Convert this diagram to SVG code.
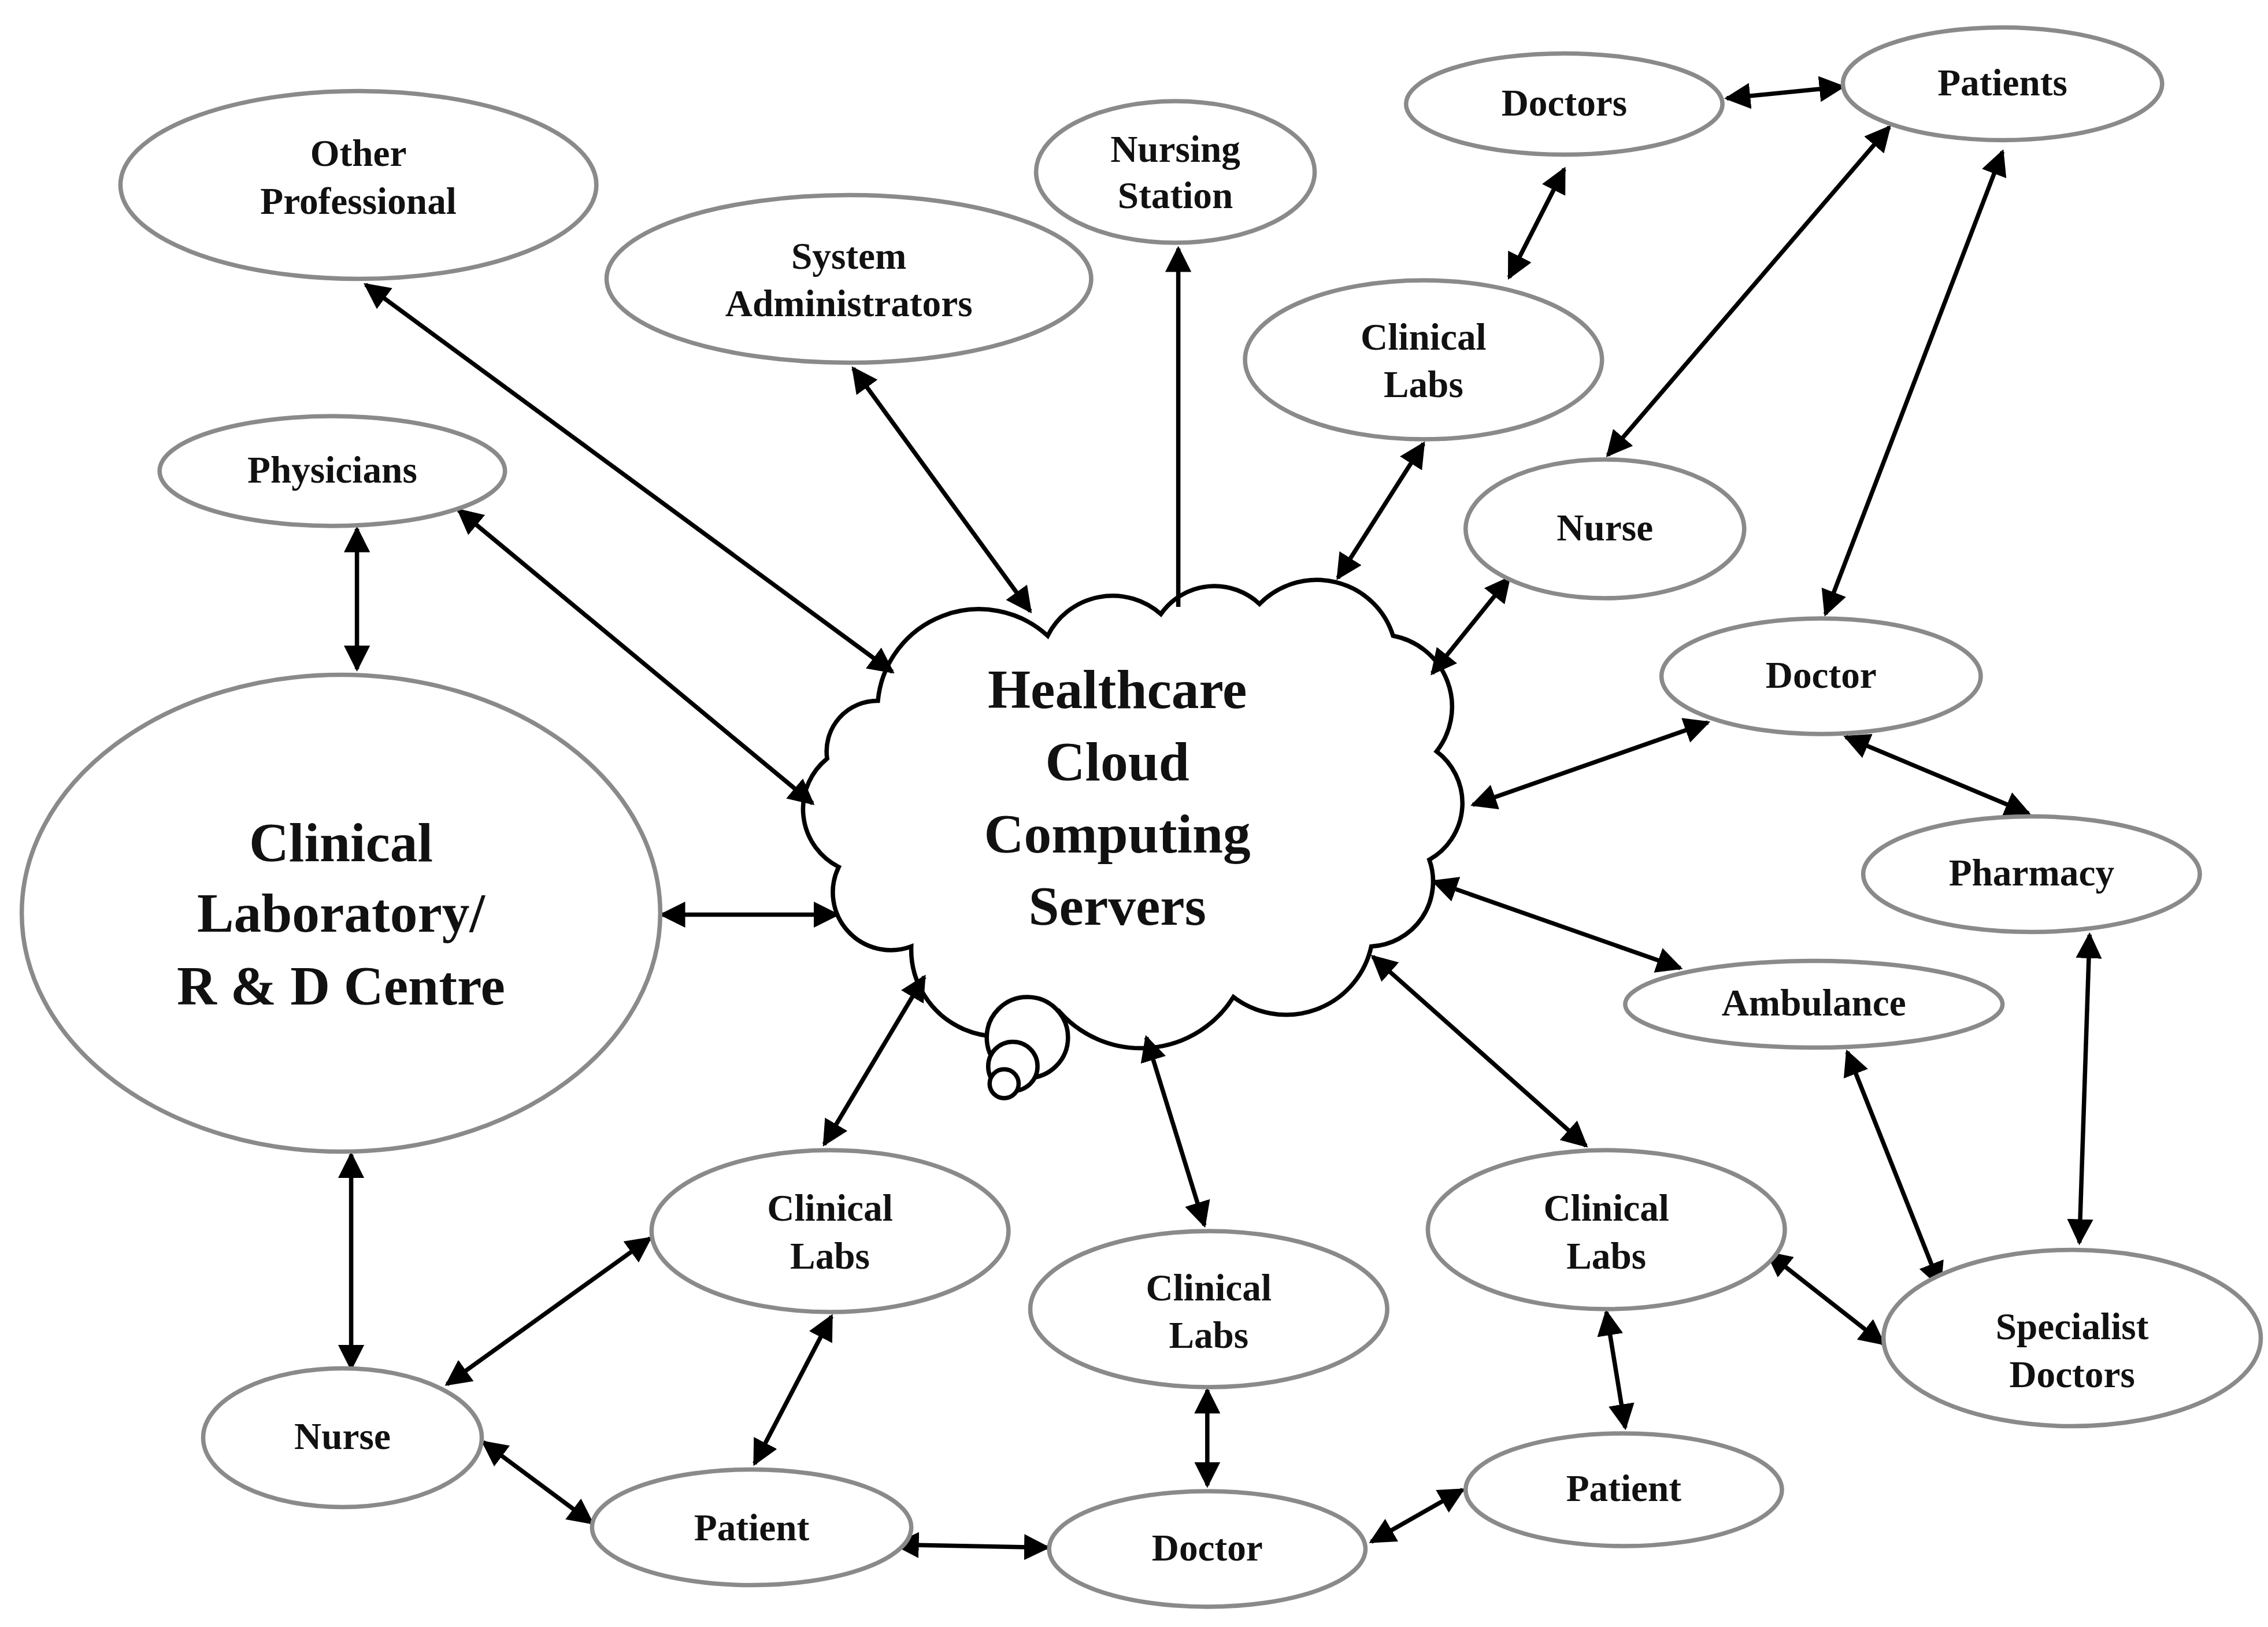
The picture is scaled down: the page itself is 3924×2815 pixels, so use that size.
<svg xmlns="http://www.w3.org/2000/svg" width="3924" height="2815" viewBox="0 0 3924 2815">
<style>
.n ellipse{fill:#fff;stroke:#8a8a8a;stroke-width:3}
text{font-family:"Liberation Serif",serif;font-weight:bold;fill:#111;text-anchor:middle}
.t{font-size:26px}
.b{font-size:38px}
#conn line{stroke:#000;stroke-width:3;marker-start:url(#a);marker-end:url(#a)}
</style>
<defs>
<marker id="a" viewBox="0 0 10 10" refX="9" refY="5" markerWidth="6" markerHeight="6" orient="auto-start-reverse"><path d="M0,0 L10,5 L0,10 z" fill="#000"/></marker>
</defs>
<rect width="3924" height="2815" fill="#fff"/>
<g transform="scale(2.5106,2.5)">
<g id="cloud">
<path d="M605 485 A70 70 0 0 1 722 440 A50 50 0 0 1 800 425 A45 45 0 0 1 868 418 A55 55 0 0 1 960 440 A50 50 0 0 1 990 520 A45 45 0 0 1 985 595 A45 45 0 0 1 945 655 A60 60 0 0 1 850 690 A75 75 0 0 1 730 700 A60 60 0 0 1 628 655 A40 40 0 0 1 578 600 A45 45 0 0 1 570 525 A35 35 0 0 1 605 485 Z" fill="#fff" stroke="#000" stroke-width="3"/>
<circle cx="708" cy="718" r="28" fill="#fff" stroke="#000" stroke-width="3"/>
<circle cx="698" cy="738" r="17" fill="#fff" stroke="#000" stroke-width="3"/>
<circle cx="692" cy="750" r="10" fill="#fff" stroke="#000" stroke-width="3"/>
<text class="b" x="770" y="490">Healthcare</text>
<text class="b" x="770" y="540">Cloud</text>
<text class="b" x="770" y="590">Computing</text>
<text class="b" x="770" y="640">Servers</text>
</g>
<g id="conn">
<line x1="252" y1="197" x2="615" y2="465"/>
<line x1="588" y1="255" x2="710" y2="423"/>
<line x1="812" y1="172" x2="812" y2="420" style="marker-end:none"/>
<line x1="981" y1="307" x2="922" y2="400"/>
<line x1="1078" y1="117" x2="1040" y2="192"/>
<line x1="1190" y1="68" x2="1270" y2="60"/>
<line x1="1302" y1="88" x2="1108" y2="315"/>
<line x1="1380" y1="105" x2="1258" y2="425"/>
<line x1="1040" y1="400" x2="987" y2="466"/>
<line x1="316" y1="353" x2="560" y2="556"/>
<line x1="246" y1="366" x2="246" y2="463"/>
<line x1="456" y1="633" x2="577" y2="633"/>
<line x1="1177" y1="500" x2="1015" y2="557"/>
<line x1="1272" y1="510" x2="1398" y2="563"/>
<line x1="988" y1="610" x2="1158" y2="670"/>
<line x1="1440" y1="647" x2="1433" y2="860"/>
<line x1="1273" y1="728" x2="1337" y2="890"/>
<line x1="946" y1="662" x2="1093" y2="793"/>
<line x1="637" y1="676" x2="568" y2="792"/>
<line x1="790" y1="718" x2="830" y2="848"/>
<line x1="242" y1="799" x2="242" y2="947"/>
<line x1="308" y1="958" x2="448" y2="857"/>
<line x1="573" y1="911" x2="520" y2="1013"/>
<line x1="333" y1="998" x2="408" y2="1054"/>
<line x1="617" y1="1069" x2="722" y2="1071"/>
<line x1="832" y1="962" x2="832" y2="1028"/>
<line x1="945" y1="1067" x2="1008" y2="1031"/>
<line x1="1107" y1="908" x2="1120" y2="988"/>
<line x1="1218" y1="867" x2="1298" y2="930"/>
</g>
<g id="other" class="n"><ellipse cx="247" cy="128" rx="164" ry="65"/><text class="t" x="247" y="115">Other</text><text class="t" x="247" y="148">Professional</text></g>
<g id="sysadmin" class="n"><ellipse cx="585" cy="193" rx="167" ry="58"/><text class="t" x="585" y="186">System</text><text class="t" x="585" y="219">Administrators</text></g>
<g id="nursing" class="n"><ellipse cx="810" cy="119" rx="96" ry="49"/><text class="t" x="810" y="112">Nursing</text><text class="t" x="810" y="144">Station</text></g>
<g id="doctors" class="n"><ellipse cx="1078" cy="72" rx="109" ry="35"/><text class="t" x="1078" y="80">Doctors</text></g>
<g id="patients" class="n"><ellipse cx="1380" cy="58" rx="110" ry="39"/><text class="t" x="1380" y="66">Patients</text></g>
<g id="labs1" class="n"><ellipse cx="981" cy="249" rx="123" ry="55"/><text class="t" x="981" y="242">Clinical</text><text class="t" x="981" y="275">Labs</text></g>
<g id="physicians" class="n"><ellipse cx="229" cy="326" rx="119" ry="38"/><text class="t" x="229" y="334">Physicians</text></g>
<g id="nurse1" class="n"><ellipse cx="1106" cy="366" rx="96" ry="48"/><text class="t" x="1106" y="374">Nurse</text></g>
<g id="doctor1" class="n"><ellipse cx="1255" cy="468" rx="110" ry="40"/><text class="t" x="1255" y="476">Doctor</text></g>
<g id="pharmacy" class="n"><ellipse cx="1400" cy="605" rx="116" ry="40"/><text class="t" x="1400" y="613">Pharmacy</text></g>
<g id="ambulance" class="n"><ellipse cx="1250" cy="695" rx="130" ry="30"/><text class="t" x="1250" y="703">Ambulance</text></g>
<g id="lab" class="n"><ellipse cx="235" cy="632" rx="220" ry="165"/><text class="b" x="235" y="596">Clinical</text><text class="b" x="235" y="645">Laboratory/</text><text class="b" x="235" y="695">R &amp; D Centre</text></g>
<g id="labs2" class="n"><ellipse cx="572" cy="852" rx="123" ry="56"/><text class="t" x="572" y="845">Clinical</text><text class="t" x="572" y="878">Labs</text></g>
<g id="labs3" class="n"><ellipse cx="833" cy="906" rx="123" ry="54"/><text class="t" x="833" y="900">Clinical</text><text class="t" x="833" y="933">Labs</text></g>
<g id="labs4" class="n"><ellipse cx="1107" cy="851" rx="123" ry="55"/><text class="t" x="1107" y="845">Clinical</text><text class="t" x="1107" y="878">Labs</text></g>
<g id="specialist" class="n"><ellipse cx="1428" cy="926" rx="130" ry="61"/><text class="t" x="1428" y="927">Specialist</text><text class="t" x="1428" y="960">Doctors</text></g>
<g id="nurse2" class="n"><ellipse cx="236" cy="995" rx="96" ry="48"/><text class="t" x="236" y="1003">Nurse</text></g>
<g id="patient1" class="n"><ellipse cx="518" cy="1057" rx="110" ry="40"/><text class="t" x="518" y="1066">Patient</text></g>
<g id="doctor2" class="n"><ellipse cx="832" cy="1072" rx="109" ry="40"/><text class="t" x="832" y="1080">Doctor</text></g>
<g id="patient2" class="n"><ellipse cx="1119" cy="1031" rx="109" ry="39"/><text class="t" x="1119" y="1039">Patient</text></g>
</g>
</svg>
